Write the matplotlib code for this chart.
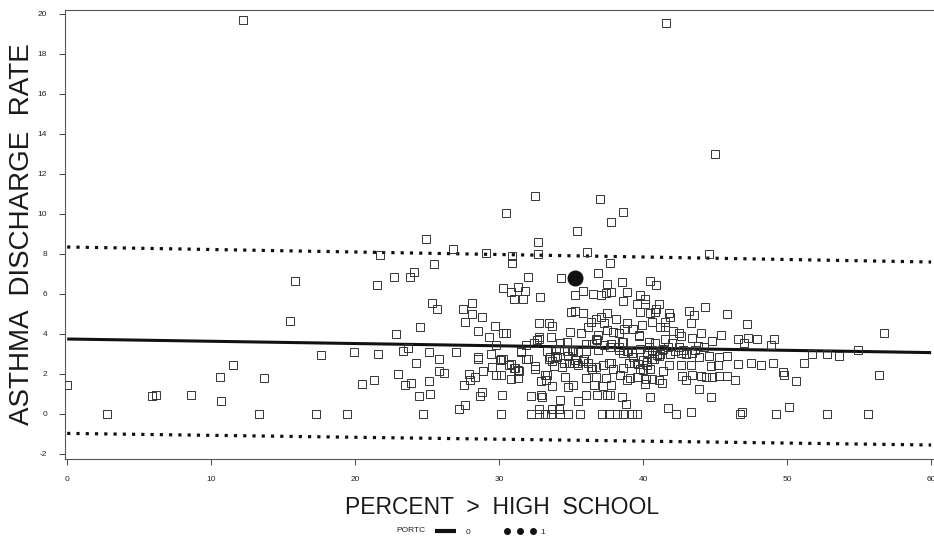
import matplotlib
matplotlib.use("Agg")
import matplotlib.pyplot as plt
from matplotlib.lines import Line2D

# ---------------- data ----------------
# x = percent > high school, y = asthma discharge rate
left_pts = [(0.0,1.47),(2.75,0.0),(5.9,0.9),(6.16,0.95),(8.6,0.95),(10.6,1.85),(10.7,0.67),
            (11.5,2.45),(13.3,0.0),(13.7,1.78),(15.5,4.63),(15.8,6.67),(17.3,0.0),(17.6,2.97),
            (19.4,0.0),(19.9,3.12),(20.5,1.52),(21.3,1.68),(21.5,6.45),(21.6,3.0),(21.7,7.95),
            (22.7,6.87),(22.85,4.02),(23.0,2.0),(23.3,3.15),(23.45,1.47),(23.7,3.3),(23.9,1.57),
            (24.2,2.53),(24.4,0.9),(24.5,4.33),(24.7,0.0),(25.1,3.1),(25.1,1.67),(25.2,1.0),
            (25.35,5.53),(25.7,5.23),(25.8,2.75),(25.8,2.17),(26.2,2.03),(27.0,3.1),(27.2,0.23),
            (27.5,5.27),(27.55,1.47),(27.6,0.45),(27.6,4.6),(27.9,2.0),(28.0,1.7),(28.1,5.53),
            (28.1,5.0),(28.3,1.83),(28.5,4.13),(28.55,2.73),(28.55,2.87),(28.7,0.9),(28.8,4.87),
            (28.8,1.1),(28.9,2.17),(29.3,3.87),(29.4,3.0)]

upper_pts = [(12.2,19.7),(41.6,19.55),(45.0,13.0),(32.5,10.9),(37.0,10.77),(30.45,10.07),
             (38.6,10.1),(37.8,9.58),(35.4,9.17),(24.9,8.73),(32.7,8.6),(26.8,8.27),(29.1,8.03),
             (30.9,7.9),(32.7,8.0),(36.1,8.1),(44.6,8.0),(30.9,7.57),(37.7,7.57),(25.5,7.5),
             (24.1,7.1),(23.8,6.83),(32.0,6.83),(34.3,6.8),(36.9,7.03),(40.5,6.67),(40.9,6.45),
             (37.5,6.5)]

core_a_pts = [(30.3,6.28),(30.8,6.1),(31.3,6.33),(31.8,6.13),(31.0,5.73),(31.65,5.73),(32.85,5.87),
              (35.3,5.93),(35.8,6.17),(36.5,6.0),(37.1,5.93),(37.4,6.03),(35.0,5.1),(35.8,5.03),
              (35.3,5.17),(29.7,4.4),(30.3,4.07),(30.5,4.03),(32.75,4.57),(33.45,4.53),(33.7,4.4),
              (34.9,4.1),(33.6,3.87),(32.8,3.77),(35.7,4.07),(36.4,4.6),(36.7,4.73),(37.1,4.87),
              (37.3,4.53),(37.5,5.07),(36.2,4.33),(36.9,3.93),(36.8,3.7),(37.5,4.2),(32.4,3.53),
              (31.9,3.47),(34.7,3.6),(34.2,3.53),(33.96,3.2),(33.35,3.13),(34.7,3.13),(35.07,3.2),
              (36.04,3.5),(36.46,3.5),(35.5,3.1),(31.5,3.13),(29.8,3.47),(30.3,2.77),(30.07,2.7),
              (29.5,2.33),(30.8,2.5),(31.0,2.3),(31.3,2.2),(31.9,2.73),(32.5,2.27),(33.45,2.73),
              (33.7,2.63),(34.0,2.83),(34.4,2.33),(34.6,1.87),(34.85,2.57),(35.3,2.7),(35.5,2.43),
              (35.85,2.63),(36.2,2.53),(36.46,2.23),(36.7,2.33),(37.2,2.43),(37.6,2.57),(29.8,1.97),
              (30.1,1.93),(30.8,1.73),(31.3,1.8),(32.9,1.67),(33.3,1.93),(33.26,1.7),(33.7,1.4),
              (34.8,1.33),(35.1,1.47),(36.0,1.8),(36.7,1.87),(37.2,1.4),(36.6,1.43),(30.2,0.97),
              (32.2,0.9),(32.9,0.97),(33.0,0.83),(34.2,0.7),(35.5,0.63),(36.0,0.93),(36.8,0.93),
              (37.5,0.93),(32.75,0.27),(33.7,0.27),(34.15,0.27),
              (30.1,0.0),(32.2,0.0),(32.8,0.0),(33.2,0.0),(33.6,0.0),(34.2,0.0),(34.8,0.0),
              (35.6,0.0),(37.15,0.0),(37.6,0.0)]

core_b_pts = [(38.5,6.6),(37.8,6.1),(38.9,6.1),(38.6,5.63),(39.8,5.97),(40.1,5.73),(39.6,5.5),
              (40.1,5.5),(41.1,5.5),(40.9,5.27),(39.8,5.1),(40.5,5.03),(40.8,5.1),(41.8,5.03),
              (43.2,5.17),(43.5,4.93),(44.3,5.33),(45.8,5.0),(38.1,4.73),(40.6,4.6),(41.5,4.6),
              (41.9,4.83),(38.9,4.53),(39.9,4.43),(41.2,4.33),(41.5,4.37),(43.3,4.53),(38.7,4.27),
              (39.3,4.23),(42.1,4.17),(42.5,4.07),(38.3,4.03),(39.7,3.93),(37.9,4.1),(44.0,4.03),
              (45.4,3.93),(41.5,3.77),(42.0,3.57),(42.6,3.9),(43.4,3.8),(44.8,3.67),(38.6,3.6),
              (40.4,3.6),(40.85,3.53),(40.4,3.37),(37.75,3.5),(38.35,3.37),(38.96,3.17),(38.6,3.07),
              (43.8,3.4),(40.6,3.07),(41.3,3.2),(41.9,3.0),(42.6,3.07),(43.4,3.07),(43.9,2.87),
              (44.6,2.9),(45.3,2.83),(45.85,2.9),(39.3,2.87),(40.0,2.7),(40.6,2.77),(41.1,2.9),
              (37.8,2.53),(39.0,2.57),(39.65,2.5),(40.3,2.47),(41.8,2.47),(42.6,2.43),(43.35,2.43),
              (44.7,2.4),(45.2,2.47),(38.6,2.3),(39.8,2.23),(40.0,2.2),(40.5,2.27),(41.4,2.17),
              (42.7,1.9),(43.4,1.97),(44.0,1.9),(44.4,1.87),(44.8,1.87),(45.3,1.9),(45.8,1.9),
              (38.4,1.93),(39.1,1.8),(39.6,1.87),(40.6,1.77),(41.1,1.7),(40.2,1.73),(38.9,1.7),
              (40.1,1.5),(41.3,1.57),(43.0,1.7),(43.9,1.27),(37.75,1.43),(38.5,0.87),(40.5,0.83),
              (44.7,0.87),(38.8,0.5),(41.7,0.3),(43.3,0.1),(37.7,0.97),
              (38.2,0.0),(38.6,0.0),(39.2,0.0),(39.6,0.0),(42.3,0.0)]

core_extra_pts = [(33.5,2.83),(33.8,2.4),(34.15,3.27),(34.5,2.53),(34.8,2.9),(35.1,3.13),
                  (35.2,2.57),(35.4,2.53),(35.9,2.73),(36.0,3.17),(36.4,2.37),(36.7,3.77),
                  (36.9,3.2),(37.3,3.43),(37.45,1.8),(37.7,3.37),(37.9,2.27),(38.3,3.2),
                  (38.5,3.6),(38.9,3.17),(39.2,3.03),(39.4,2.53),(39.7,3.9),(39.75,3.27),
                  (40.25,3.03),(40.3,2.6),(40.6,3.2),(40.76,2.77),(40.96,2.97),(41.15,3.0),
                  (41.4,3.27),(41.76,3.37),(42.2,3.13),(42.5,3.37),(42.76,3.2),(43.0,3.0),
                  (43.6,3.2),(44.2,3.37),(33.9,2.9),(33.2,1.95),(31.4,2.13),(31.5,3.1),
                  (32.0,2.73),(32.5,2.4),(32.66,3.68),(32.8,3.83),(30.1,2.73),(30.7,2.47),
                  (31.1,2.28)]

right_pts = [(46.4,1.7),(46.6,3.73),(46.6,2.5),(46.7,0.0),(46.9,0.1),(47.0,3.53),(47.2,4.5),
             (47.25,3.8),(47.5,2.57),(47.9,3.73),(48.2,2.43),(48.9,3.47),(49.0,2.53),(49.1,3.73),
             (49.2,0.0),(49.7,2.1),(49.75,1.93),(50.1,0.33),(50.6,1.63),(51.2,2.57),(51.7,3.0),
             (52.8,3.0),(52.8,0.0),(53.6,2.9),(54.9,3.2),(55.6,0.0),(56.4,1.93),(56.7,4.03)]

# highlighted (PORTC = 1) observation
portc_x = [35.3]
portc_y = [6.8]

# regression line and prediction limits (values at x = 0 and x = 60)
fit_x = [0, 60]
fit_y = [3.75, 3.07]
upper_y = [8.35, 7.60]
lower_y = [-0.97, -1.55]

x_ticks = [0, 10, 20, 30, 40, 50, 60]
y_ticks = [-2, 0, 2, 4, 6, 8, 10, 12, 14, 16, 18, 20]

x_label = "PERCENT  >  HIGH  SCHOOL"
y_label = "ASTHMA  DISCHARGE  RATE"
legend_title = "PORTC"
legend_labels = ["0", "1"]

# ---------------- drawing ----------------
plt.rcParams['font.family'] = ['Liberation Sans', 'DejaVu Sans']

W, H = 934, 547
fig = plt.figure(figsize=(W / 100, H / 100), dpi=100)
fig.patch.set_facecolor('white')
ax = fig.add_axes([65 / W, 1 - 459 / H, 869 / W, 449 / H])

all_pts = left_pts + upper_pts + core_a_pts + core_b_pts + core_extra_pts + right_pts
xs = [p[0] for p in all_pts]
ys = [p[1] for p in all_pts]

ax.plot(fit_x, upper_y, color='#111111', lw=2.3, linestyle=(0, (1, 1.9)),
        dash_capstyle='butt', zorder=2)
ax.plot(fit_x, lower_y, color='#111111', lw=2.3, linestyle=(0, (1, 1.9)),
        dash_capstyle='butt', zorder=2)
ax.plot(fit_x, fit_y, color='#111111', lw=2.2, solid_capstyle='butt', zorder=2)

ax.plot(xs, ys, linestyle='none', marker='s', ms=5.1, mfc='none', mec='#333333',
        mew=0.7, zorder=3)
ax.plot(portc_x, portc_y, linestyle='none', marker='o', ms=10.5, mfc='#111111',
        mec='#111111', zorder=4)

ax.set_xlim(-0.15, 60.2)
ax.set_ylim(-2.25, 20.2)
ax.set_xticks(x_ticks)
ax.set_yticks(y_ticks)
ax.set_xticklabels([str(t) for t in x_ticks])
ax.set_yticklabels([str(t) for t in y_ticks])
ax.tick_params(axis='both', direction='out', length=4, width=0.7, color='#444444',
               labelsize=6, labelcolor='#222222')
ax.tick_params(axis='y', pad=9)
ax.tick_params(axis='x', pad=8)

for side in ['left', 'bottom', 'top']:
    ax.spines[side].set_color('#555555')
    ax.spines[side].set_linewidth(0.8)
ax.spines['right'].set_visible(False)

fig.text(22 / W, 1 - 234 / H, y_label, rotation=90, ha='center', va='center',
         fontsize=20, color='#1a1a1a')
fig.text(502 / W, 1 - 508 / H, x_label, ha='center', va='center',
         fontsize=16.5, color='#1a1a1a')

# legend row
ly = 1 - 531 / H
fig.text(396 / W, ly, legend_title, ha='left', va='center', fontsize=6, color='#222222')
fig.add_artist(Line2D([435 / W, 456 / W], [ly, ly], color='#111111', lw=3,
                      solid_capstyle='butt'))
fig.text(466 / W, ly - 0.003, legend_labels[0], ha='left', va='center', fontsize=6,
         color='#222222')
fig.add_artist(Line2D([507 / W, 520 / W, 533 / W], [ly, ly, ly], linestyle='none',
                      marker='o', ms=4, color='#111111'))
fig.text(540 / W, ly - 0.003, legend_labels[1], ha='left', va='center', fontsize=6,
         color='#222222')

fig.savefig('out.png', dpi=100, facecolor='white')
